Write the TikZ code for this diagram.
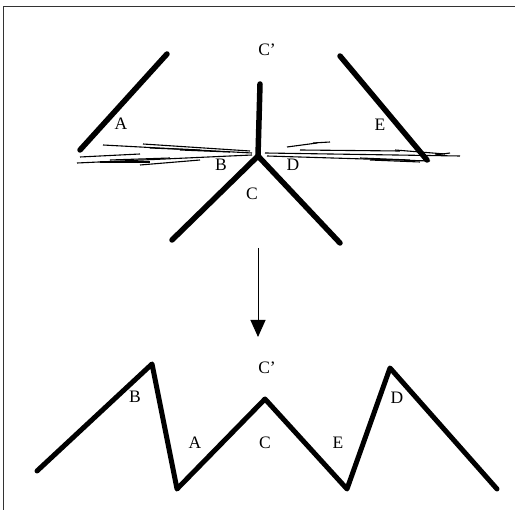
\documentclass[tikz,border=0pt]{standalone}
\usepackage{fontspec}
\setmainfont{Liberation Serif}
\usetikzlibrary{arrows.meta}
\begin{document}
\begin{tikzpicture}[x=1pt, y=-1pt,
    stick/.style={line width=5.5pt, line cap=round, line join=round},
    scribble/.style={line width=1.1pt},
    lbl/.style={inner sep=0pt, font=\fontsize{17.5}{20}\selectfont}]
    \useasboundingbox (0,0) rectangle (515,510);
    % frame (top and left only)
    \draw[line width=1.5pt, black!80] (515,6.5) -- (3.5,6.5) -- (3.5,510);
    % top: the sticks before folding
    \coordinate (J) at (258,156);
    \draw[stick] (167,54) -- (80,150);
    \draw[stick] (340,56) -- (427,160);
    \draw[stick] (260,84) -- (J);
    \draw[stick] (172,240) -- (J) -- (340,243);
    % the scribbled ground line
    \foreach \xa/\ya/\xb/\yb in {103/145/252/153, 77/163/252/155, 143/144/250/151,
        80/157/140/154, 110/160/170/158, 265/153/460/156, 267/156/430/161,
        287/147/317/143, 313/143/330/142, 300/150/400/151, 360/158/410/160,
        180/150/230/152, 395/150/445/154, 100/162/150/162, 150/148/200/150,
        140/165/200/160, 370/160/420/162, 435/155/450/153}
        \draw[scribble] (\xa,\ya) -- (\xb,\yb);
    \node[lbl] (tA) at (121,124) {A};
    \node[lbl] (tE) at (380,125) {E};
    \node[lbl] (tCp) at (267,50) {C’};
    \node[lbl] (tB) at (221,165) {B};
    \node[lbl] (tD) at (293,165) {D};
    \node[lbl] (tC) at (252,194) {C};
    % arrow between the two states
    \coordinate (arrS) at (258,248);
    \coordinate (arrE) at (258,337);
    \draw[line width=1pt, -{Triangle[width=15pt, length=17pt]}] (arrS) -- (arrE);
    % bottom: the unfolded zigzag
    \draw[stick, line width=5pt] (37,471) -- (152,364) -- (177,489) -- (265,399)
        -- (347,489) -- (390,368) -- (497,489);
    \node[lbl] (bB) at (135,397) {B};
    \node[lbl] (bA) at (195,443) {A};
    \node[lbl] (bCp) at (267,368) {C’};
    \node[lbl] (bC) at (265,443) {C};
    \node[lbl] (bE) at (338,443) {E};
    \node[lbl] (bD) at (397,398) {D};
\end{tikzpicture}
\end{document}
